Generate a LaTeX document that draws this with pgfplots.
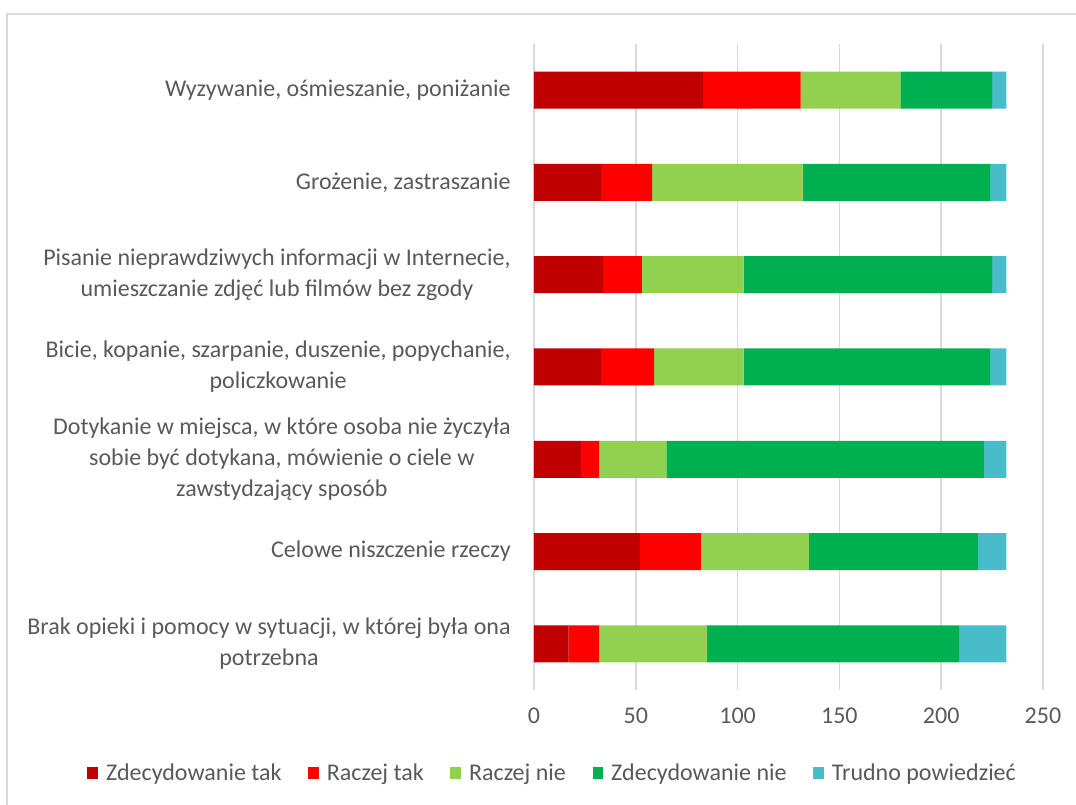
\documentclass[border=0pt]{standalone}
\usepackage{pgfplots}
\pgfplotsset{compat=1.18}
\usepackage{fontspec}
\setmainfont{Carlito}
\definecolor{c1}{HTML}{C00000}
\definecolor{c2}{HTML}{FF0000}
\definecolor{c3}{HTML}{92D050}
\definecolor{c4}{HTML}{00B050}
\definecolor{c5}{HTML}{48BCC8}
\definecolor{txt}{HTML}{595959}
\definecolor{grd}{HTML}{D9D9D9}
\begin{document}
\begin{tikzpicture}
\path[use as bounding box] (-400.5pt,-86.25pt) rectangle (406.5pt,517.5pt);
\draw[grd, line width=1.2pt] (-395.25pt,-100pt) rectangle (420pt,507pt);
\begin{axis}[
  at={(0pt,0pt)}, anchor=south west,
  scale only axis,
  width=381.75pt, height=484.5pt,
  xbar stacked,
  bar width=27.75pt,
  xmin=0, xmax=250,
  ymin=-0.5, ymax=6.5,
  xtick={0,50,...,250},
  ytick={0,...,6},
  yticklabels={
    {Brak opieki i pomocy w sytuacji, w której była ona\\potrzebna},
    {Celowe niszczenie rzeczy},
    {Dotykanie w miejsca, w które osoba nie życzyła\\sobie być dotykana, mówienie o ciele w\\zawstydzający sposób},
    {Bicie, kopanie, szarpanie, duszenie, popychanie,\\policzkowanie},
    {Pisanie nieprawdziwych informacji w Internecie,\\umieszczanie zdjęć lub filmów bez zgody},
    {Grożenie, zastraszanie},
    {Wyzywanie, ośmieszanie, poniżanie}},
  axis line style={draw=none},
  major tick length=0pt,
  xmajorgrids,
  major grid style={grd, line width=1.2pt},
  /pgf/number format/assume math mode=true,
  tick label style={font=\fontsize{18}{23.25}\selectfont, text=txt},
  yticklabel style={align=center, xshift=-14pt},
  xticklabel style={yshift=-10pt},
  legend columns=5,
  legend style={at={(axis description cs:0.0373,-0.129)}, anchor=center,
    draw=none, font=\fontsize{18}{22}\selectfont, text=txt,
    /tikz/every even column/.append style={column sep=18pt},
    /tikz/every odd column/.append style={column sep=4pt}},
  legend image code/.code={\fill[#1] (0pt,-4.5pt) rectangle (8pt,4.5pt);},
  every axis plot/.append style={draw=none},
]
\addplot[fill=c1] coordinates {(17,0) (52,1) (23,2) (33,3) (34,4) (33,5) (83,6)};
\addplot[fill=c2] coordinates {(15,0) (30,1) (9,2) (26,3) (19,4) (25,5) (48,6)};
\addplot[fill=c3] coordinates {(53,0) (53,1) (33,2) (44,3) (50,4) (74,5) (49,6)};
\addplot[fill=c4] coordinates {(124,0) (83,1) (156,2) (121,3) (122,4) (92,5) (45,6)};
\addplot[fill=c5] coordinates {(23,0) (14,1) (11,2) (8,3) (7,4) (8,5) (7,6)};
\legend{Zdecydowanie tak, Raczej tak, Raczej nie, Zdecydowanie nie, Trudno powiedzieć}
\end{axis}
\end{tikzpicture}
\end{document}
